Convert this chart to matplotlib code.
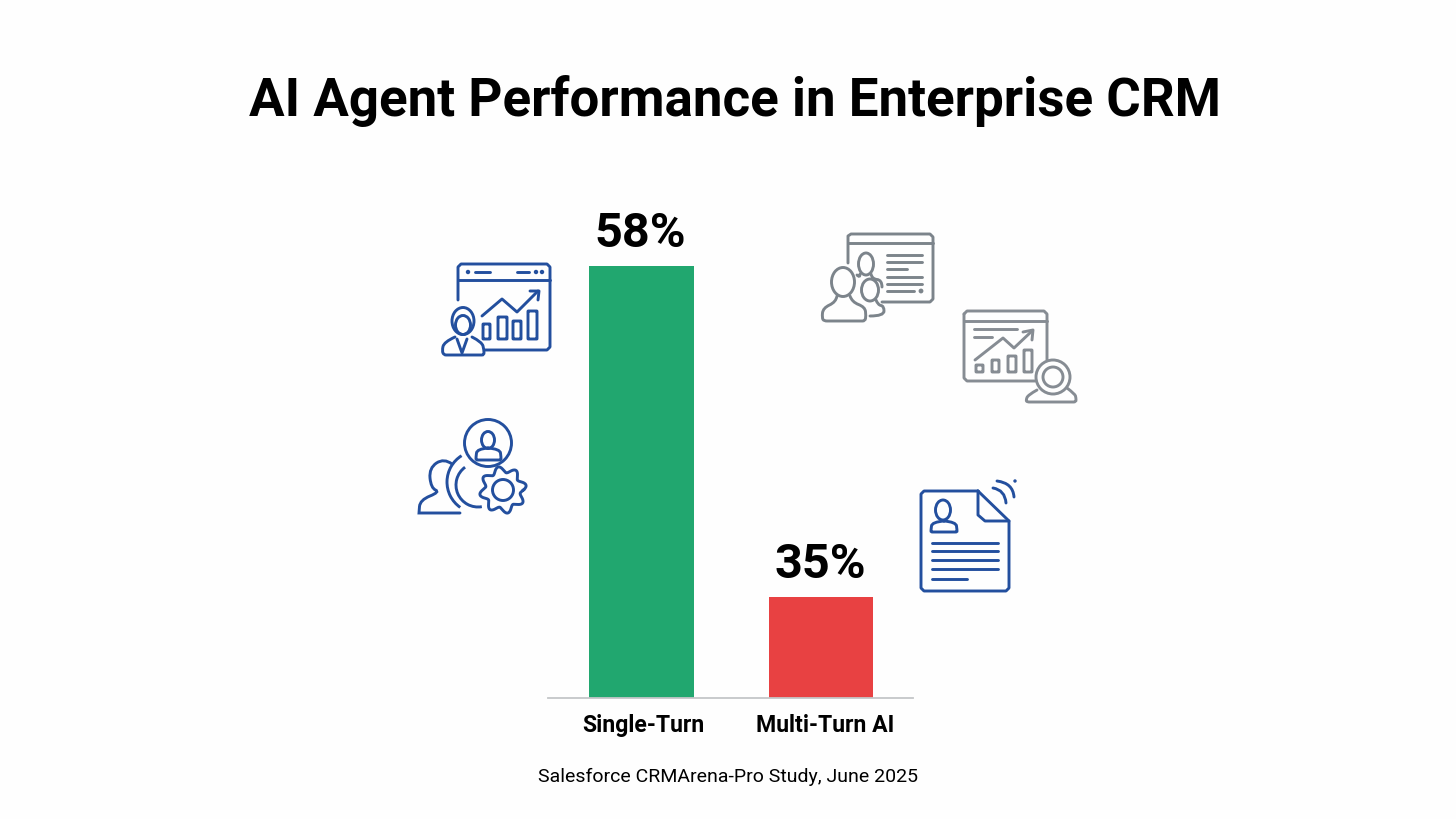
import numpy as np
import matplotlib
matplotlib.use('Agg')
import matplotlib.pyplot as plt
from matplotlib.patches import Arc, Circle, Ellipse, FancyBboxPatch, PathPatch
from matplotlib.path import Path
from matplotlib.transforms import ScaledTranslation

plt.rcParams['font.family'] = ['Roboto', 'DejaVu Sans']

title = 'AI Agent Performance in Enterprise CRM'
source = 'Salesforce CRMArena-Pro Study, June 2025'
categories = ['Single-Turn', 'Multi-Turn AI']
values = [58, 35]
# The reference does not draw its bars to scale, so these are the heights.
drawn_heights = [58, 13.6]
bar_colors = ['#21a76f', '#e84142']

BLUE = '#234f9e'
GRAY = '#7c848b'
GRAY2 = '#868c93'
LW = 2.1

W, H = 1456, 819


def px_axes(fig, left, top, right, bottom):
    return fig.add_axes([left / W, 1 - bottom / H, (right - left) / W, (bottom - top) / H])


def line(ax, pts, color, lw=LW):
    xs, ys = zip(*pts)
    ax.plot(xs, ys, color=color, lw=lw, solid_capstyle='round', solid_joinstyle='round')


def smooth(ax, pts, color, lw=LW, zorder=2):
    # rounded polyline, the inner points act as bezier controls
    verts = [pts[0]]
    codes = [Path.MOVETO]
    for i in range(1, len(pts) - 1):
        end = pts[-1] if i == len(pts) - 2 else ((pts[i][0] + pts[i + 1][0]) / 2, (pts[i][1] + pts[i + 1][1]) / 2)
        verts += [pts[i], end]
        codes += [Path.CURVE3, Path.CURVE3]
    ax.add_patch(PathPatch(Path(verts, codes), fc='none', ec=color, lw=lw, capstyle='round', zorder=zorder))


def box(ax, x0, y0, x1, y1, color, lw=LW, pad=1.5):
    ax.add_patch(FancyBboxPatch((x0 + pad, y0 + pad), x1 - x0 - 2 * pad, y1 - y0 - 2 * pad,
                                boxstyle='round,pad=%g' % pad, fc='none', ec=color, lw=lw))


def head(ax, x, y, w, h, color, lw=LW):
    ax.add_patch(Ellipse((x, y), w, h, fc='none', ec=color, lw=lw))


def analyst_icon(ax):
    c = BLUE
    line(ax, [(458, 300), (458, 267), (461, 264), (547, 264), (550, 267), (550, 347), (547, 350), (485, 350)], c)
    line(ax, [(458, 280), (550, 280)], c)
    line(ax, [(475, 272), (490, 272)], c)
    line(ax, [(517, 272), (529, 272)], c)
    for x in (468, 536, 542):
        ax.add_patch(Circle((x, 272), 1.5, color=c))
    for x0, y0, x1 in [(483, 324, 490), (498, 317, 507), (513, 321, 521), (528, 311, 537)]:
        box(ax, x0, y0, x1, 339, c, pad=0.5)
    line(ax, [(482, 316), (502, 299), (517, 312), (538, 291)], c)
    line(ax, [(530, 291), (539, 291), (538, 300)], c)
    head(ax, 463, 321, 22, 27, c)
    head(ax, 463, 325, 15, 19, c)
    smooth(ax, [(455, 337), (444, 342), (442, 351), (444, 355), (448, 355), (480, 355), (484, 355), (484, 350), (482, 342), (472, 337)], c)
    line(ax, [(457, 339), (462, 353), (467, 339)], c)


def team_icon(ax):
    c = BLUE
    ax.add_patch(Circle((488, 443), 23.5, fc='none', ec=c, lw=LW))
    head(ax, 488, 440, 13, 17, c)
    smooth(ax, [(488, 448), (477, 449), (476, 457), (476, 460), (479, 460), (498, 460), (501, 460), (501, 457), (500, 449), (488, 448)], c)
    smooth(ax, [(452, 464), (444, 458), (429, 468), (431, 488), (440, 492), (420, 500), (419, 513), (419, 513), (425, 513), (460, 513)], c)
    ax.add_patch(Arc((478, 482), 62, 62, theta1=125, theta2=238, ec=c, lw=LW))
    ax.add_patch(Arc((478, 485), 44, 44, theta1=80, theta2=234, ec=c, lw=LW))
    # gear outline
    angle = np.linspace(0, 2 * np.pi, 241)
    radius = 20.5 + 3 * np.cos(8 * (angle + 0.2))
    ax.plot(503 + radius * np.cos(angle), 490 + radius * np.sin(angle), color=c, lw=LW)
    ax.add_patch(Circle((503, 490), 10.5, fc='none', ec=c, lw=LW))


def people_icon(ax):
    c = GRAY
    line(ax, [(848, 263), (848, 236), (851, 234), (930, 234), (933, 237), (933, 299), (930, 302), (882, 302)], c)
    line(ax, [(848, 243), (933, 243)], c)
    for y, x1 in [(255, 922), (262, 922), (269, 907), (277, 922), (284, 922), (291, 914)]:
        line(ax, [(887, y), (x1, y)], c)
    ax.add_patch(Circle((921, 291), 1.7, color=c))
    head(ax, 866, 264, 15, 22, c)
    smooth(ax, [(871, 274), (872, 279), (882, 280), (882, 287)], c)
    smooth(ax, [(860, 274), (860, 278), (857, 275)], c)
    head(ax, 870, 290, 17, 22, c)
    smooth(ax, [(876, 300), (878, 305), (884, 306), (884, 316), (870, 316)], c)
    head(ax, 843, 282, 23, 29, c)
    smooth(ax, [(837, 296), (836, 302), (823, 308), (822, 318), (824, 321), (830, 321), (860, 321), (865, 321), (866, 316), (865, 307), (852, 302), (850, 296)], c)


def webcam_icon(ax):
    c = GRAY2
    line(ax, [(964, 314), (967, 311), (1044, 311), (1047, 314), (1047, 360)], c)
    line(ax, [(964, 314), (964, 378), (967, 381), (1035, 381)], c)
    line(ax, [(964, 321), (1047, 321)], c)
    line(ax, [(974, 329), (1017, 329)], c)
    line(ax, [(974, 337), (992, 337)], c)
    line(ax, [(975, 360), (1003, 338), (1014, 348), (1032, 331)], c)
    line(ax, [(1023, 332), (1033, 330), (1032, 340)], c)
    for x0, y0, x1 in [(976, 365, 983), (992, 360, 999), (1008, 356, 1016), (1024, 350, 1032)]:
        box(ax, x0, y0, x1, 372, c, pad=0.5)
    smooth(ax, [(1037, 390), (1028, 395), (1026, 400), (1027, 402), (1032, 402), (1071, 402), (1076, 402), (1076, 398), (1075, 394), (1067, 388)], c)
    ax.add_patch(Circle((1053, 377), 17, fc='#fefefe', ec=c, lw=LW, zorder=3))
    ax.add_patch(Circle((1053, 377), 10, fc='none', ec=c, lw=LW, zorder=3))


def resume_icon(ax):
    c = BLUE
    line(ax, [(978, 491), (924, 491), (921, 494), (921, 588), (924, 591), (1006, 591), (1009, 588), (1009, 521), (978, 491)], c)
    line(ax, [(978, 491), (978, 515), (985, 521), (1009, 521)], c)
    head(ax, 943, 510, 15, 20, c)
    smooth(ax, [(944, 521), (932, 522), (931, 530), (931, 532), (934, 532), (954, 532), (957, 532), (957, 530), (956, 522), (944, 521)], c)
    for y, x1 in [(543, 998), (551, 998), (560, 998), (569, 998), (579, 967)]:
        line(ax, [(932, y), (x1, y)], c)
    smooth(ax, [(993, 488), (1005, 490), (1006, 503)], c)
    smooth(ax, [(997, 481), (1013, 483), (1014, 497)], c)
    ax.add_patch(Circle((1015, 481), 1.0, color=c))


fig = plt.figure(figsize=(W / 100, H / 100), dpi=100, facecolor='#fefefe')

# bar chart, baseline sits at y=698 in the picture
ax = px_axes(fig, 548, 200, 913, 698)
ax.set_facecolor('none')
positions = np.arange(len(categories))
ax.bar(positions, drawn_heights, width=0.583, color=bar_colors)
ax.set_xlim(-0.521, 1.5125)
ax.set_ylim(0, 58 * 498 / 432)
for pos, height, value in zip(positions, drawn_heights, values):
    ax.annotate('%d%%' % value, (pos, height), xytext=(-1, 9), textcoords='offset pixels',
                ha='center', va='bottom', fontsize=35, fontweight='bold', color='black')
for name in ('top', 'left', 'right'):
    ax.spines[name].set_visible(False)
ax.spines['bottom'].set_color('#c4c6c8')
ax.spines['bottom'].set_linewidth(1.3)
ax.set_yticks([])
ax.set_xticks(positions)
ax.set_xticklabels(categories, fontsize=16.6, fontweight='bold', color='black')
ax.tick_params(axis='x', length=0, pad=11.5)
for label, shift in zip(ax.get_xticklabels(), (1.5, 4)):
    label.set_transform(label.get_transform() + ScaledTranslation(shift / 100, 0, fig.dpi_scale_trans))

# overlay in picture pixels for the text and icons
overlay = px_axes(fig, 0, 0, W, H)
overlay.set_xlim(0, W)
overlay.set_ylim(H, 0)
overlay.axis('off')
overlay.patch.set_alpha(0)
overlay.text(735, 101, title, ha='center', va='center', fontsize=38.1, fontweight='bold', color='black')
overlay.text(727.5, 777, source, ha='center', va='center', fontsize=14, color='black')

analyst_icon(overlay)
team_icon(overlay)
people_icon(overlay)
webcam_icon(overlay)
resume_icon(overlay)

fig.savefig('out.png', dpi=100, facecolor=fig.get_facecolor())
